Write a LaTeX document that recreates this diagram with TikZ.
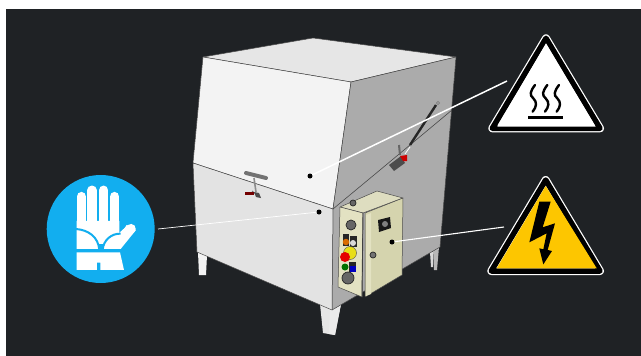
\documentclass[tikz,border=0pt]{standalone}
\definecolor{bgd}{HTML}{1F2225}
\definecolor{edgec}{HTML}{4A4A4A}
\definecolor{faceA}{HTML}{F3F3F3}
\definecolor{faceB}{HTML}{E6E6E6}
\definecolor{faceC}{HTML}{E3E3E3}
\definecolor{faceD}{HTML}{ABABAB}
\definecolor{creamA}{HTML}{E3E2C2}
\definecolor{creamB}{HTML}{D5D4AE}
\definecolor{creamC}{HTML}{DEDDC0}
\definecolor{gloveblue}{HTML}{12AEEF}
\definecolor{warnyellow}{HTML}{FDC600}
\tikzset{
  body/.style={draw=edgec,line width=.5pt,line join=round},
  marker/.style={circle,fill=black,inner sep=0pt,minimum size=5pt},
  leader/.style={draw=white,line width=1.1pt},
  fingerline/.style={draw=white,line width=9.6pt,line cap=round},
  knob/.style={circle,draw=black!85,line width=.7pt,fill=#1,inner sep=0pt},
}
\begin{document}
\begin{tikzpicture}[x=1pt,y=-1pt]
\useasboundingbox (0,0) rectangle (641,356);
\fill[bgd] (6,9) rectangle (641,356);
% legs
\fill[faceA] (198,252) -- (207,255) -- (206,275) -- (199,275) -- cycle;
\fill[white!85!black] (430,252) -- (433,252) -- (433,267) -- (431,267) -- cycle;
\fill[faceD!85!white] (433,249) -- (439,247) -- (437,270) -- (434,270) -- cycle;
\fill[faceB] (320,304) -- (341,304) -- (335,335) -- (323,333) -- cycle;
\fill[white!92!black] (330,307) -- (341,304) -- (335,335) -- (329,334) -- cycle;
% body faces
\fill[faceB,body] (203,57) -- (313,38) -- (456,57) -- (351,82) -- cycle;
\fill[faceA,body] (203,57) -- (351,82) -- (333,209) -- (193,163) -- cycle;
\fill[faceD,body] (351,82) -- (456,57) -- (440,247) -- (332,310) -- (333,209) -- cycle;
\fill[faceC,body] (193,163) -- (333,209) -- (332,310) -- (197,252) -- cycle;
\draw[edgec,line width=.6pt] (333,209) -- (380,170) -- (452,110);
% left handle
\draw[black!55,line width=4pt,line cap=round] (246,173) -- (266,178);
\draw[black!45,line width=1.6pt] (254,178) -- (256,192);
\draw[black!60,line width=.8pt] (252,191) -- (260,197);
\fill[red!45!black] (245,192) rectangle (254,195);
\fill[black!70] (254,192) -- (259,193) -- (261,198) -- (256,197) -- cycle;
% right handle
\draw[black!85,line width=2.4pt] (410,145) -- (436,105);
\draw[black!50,line width=.7pt] (438,103) circle (1.6pt);
\draw[white,line width=.8pt] (405,154) -- (410,147);
\fill[black!70] (389,165) -- (401,156) -- (405,163) -- (394,171) -- cycle;
\fill[red!80!black] (400,156) -- (407,155) -- (407,161) -- (403,161) -- cycle;
\draw[black!60,line width=2pt] (399,145) -- (400,155);
% control box
\fill[creamC,body] (340,207) -- (377,191) -- (403,198) -- (363,213) -- cycle;
\fill[creamA,body] (340,207) -- (363,213) -- (362,297) -- (338,287) -- cycle;
\fill[creamB,body] (365,213) -- (403,198) -- (402,275) -- (365,297) -- cycle;
\fill[creamA] (366,215) -- (371,213) -- (371,294) -- (366,296) -- cycle;
\draw[black!75,line width=.9pt] (363,213) -- (362,297);
% box controls
\node[knob=black!60,minimum size=6pt] (topknob) at (353,203) {};
\node[knob=black!60,minimum size=10pt] (k1) at (351,225) {};
\fill[black!85] (343,234) rectangle (349,246);
\fill[black!85] (350,236) rectangle (357,247);
\node[circle,fill=orange!85!black,inner sep=0pt,minimum size=6.5pt] (k2) at (346,242) {};
\node[circle,fill=black!15,inner sep=0pt,minimum size=6pt] (k3) at (353,243) {};
\node[circle,fill=yellow!90!black,draw=black!70,line width=.4pt,inner sep=0pt,minimum size=13pt] (k4) at (350,253) {};
\node[circle,fill=red!90!black,inner sep=0pt,minimum size=10pt] (k5) at (345,257) {};
\node[circle,fill=green!45!black,inner sep=0pt,minimum size=7pt] (k6) at (345,267) {};
\fill[black!85] (349,262) rectangle (356,272);
\node[rectangle,fill=blue!75!black,inner sep=0pt,minimum size=6pt] (k7) at (352.5,268.5) {};
\node[knob=black!60,minimum size=12pt] (k8) at (348,278) {};
\fill[black!90] (378,220) -- (390,217) -- (391,228) -- (379,232) -- cycle;
\node[circle,fill=black!50,inner sep=0pt,minimum size=6pt] (switch) at (385,224) {};
\node[knob=black!55,minimum size=6pt] (hole) at (373,255) {};
% leader markers and ends
\node[marker] (mHot) at (310,176) {};
\node[marker] (mGlove) at (319,212) {};
\node[marker] (mBolt) at (392,242) {};
\coordinate (eHot) at (507,81);
\coordinate (eGlove) at (158,229);
\coordinate (eBolt) at (504,227);
\draw[leader,line width=1.5pt] (mHot) -- (eHot);
\draw[leader,line width=.7pt] (mGlove) -- (eGlove);
\draw[leader] (mBolt) -- (eBolt);
% glove sign
\node[circle,fill=gloveblue,inner sep=0pt,minimum size=108pt] (glove) at (100.7,229) {};
\begin{scope}[shift={(30,165)},x=.3333pt,y=-.3333pt]
  \draw[fingerline] (154,95) -- (154,200);
  \draw[fingerline] (186,76) -- (186,200);
  \draw[fingerline] (221,76) -- (221,200);
  \draw[fingerline] (254,95) -- (254,200);
  \fill[gloveblue] (169,100) rectangle (171.5,168);
  \fill[gloveblue] (201,100) rectangle (206,168);
  \fill[gloveblue] (236,100) rectangle (239,168);
  \fill[white] (140,168) -- (268,168) -- (268,215) -- (290,180) -- (318,195) -- (272,252) -- (140,252) -- cycle;
  \draw[white,line width=9.5pt,line cap=round] (262,228) -- (303,191);
  \draw[gloveblue,line width=2pt] (138,192) .. controls (175,195) and (205,215) .. (208,255);
  \draw[gloveblue,line width=2pt] (218,255) .. controls (220,225) and (245,205) .. (272,206);
  \fill[gloveblue] (208,238) rectangle (218,256);
  \fill[gloveblue] (135,253) rectangle (285,261);
  \fill[white] (140,262) -- (270,262) -- (282,315) -- (211,315) -- (211,293) -- (201,293) -- (201,315) -- (140,315) -- cycle;
\end{scope}
% hot surface sign
\draw[draw=white,line width=8pt,line join=round,fill=black] (546,38.3) -- (600,128.3) -- (492.3,128.3) -- cycle;
\draw[draw=black,line width=5.5pt,line join=round] (546,38.3) -- (600,128.3) -- (492.3,128.3) -- cycle;
\fill[white] (546,43.3) -- (595.7,126.7) -- (497.3,126.7) -- cycle;
\begin{scope}[shift={(480,25)},x=.3333pt,y=-.3333pt]
  \foreach \dx in {0,37,72}{
    \draw[black,line width=2.4pt,line cap=round] (165+\dx,180) .. controls (150+\dx,200) and (148+\dx,210) .. (160+\dx,220) .. controls (172+\dx,232) and (170+\dx,245) .. (158+\dx,260);
  }
  \fill[black] (145,272) rectangle (250,283);
\end{scope}
% electrical sign
\draw[draw=white,line width=8pt,line join=round,fill=black] (545.7,180) -- (600,271) -- (491.3,271) -- cycle;
\draw[draw=black,line width=5.5pt,line join=round] (545.7,180) -- (600,271) -- (491.3,271) -- cycle;
\fill[warnyellow] (545.7,186) -- (596.7,268.3) -- (496.7,268.3) -- cycle;
\begin{scope}[shift={(480,170)},x=.3333pt,y=-.3333pt]
  \fill[black] (178,95) -- (212,95) -- (188,172) -- (225,160) -- (203,240) -- (216,243) -- (190,283) -- (178,235) -- (190,238) -- (200,190) -- (148,217) -- cycle;
\end{scope}
\end{tikzpicture}
\end{document}
